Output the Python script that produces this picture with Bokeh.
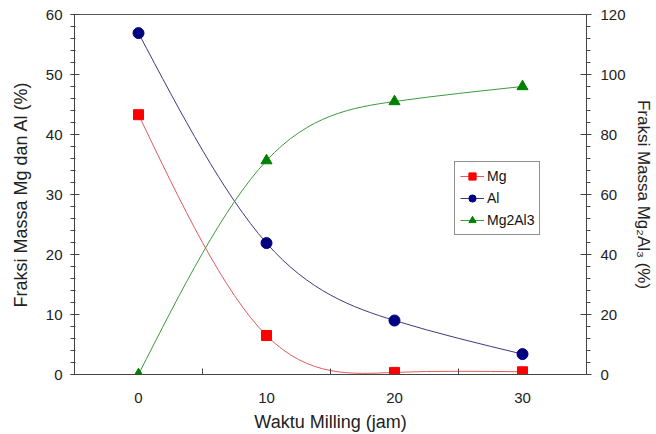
import numpy as np
from bokeh.plotting import figure
from bokeh.models import (Range1d, LinearAxis, FixedTicker, Legend, LegendItem)
from bokeh.embed import file_html
from bokeh.resources import INLINE

# ---- data ----
waktu = [0, 10, 20, 30]
mg = [43.3, 6.5, 0.35, 0.45]
al = [56.9, 21.9, 9.0, 3.4]
mg2al3 = [0.0, 71.3, 91.0, 96.0]
x_labels = [0, 10, 20, 30]

FONT = "Liberation Sans"


def natural_spline_bezier(x, y):
    """Natural cubic spline through the points, returned as bezier segments."""
    x = np.asarray(x, float)
    y = np.asarray(y, float)
    n = len(x)
    h = np.diff(x)
    A = np.zeros((n, n))
    b = np.zeros(n)
    A[0, 0] = 1
    A[-1, -1] = 1
    for i in range(1, n - 1):
        A[i, i - 1] = h[i - 1]
        A[i, i] = 2 * (h[i - 1] + h[i])
        A[i, i + 1] = h[i]
        b[i] = 6 * ((y[i + 1] - y[i]) / h[i] - (y[i] - y[i - 1]) / h[i - 1])
    M = np.linalg.solve(A, b)
    d0 = (y[1:] - y[:-1]) / h - h * (2 * M[:-1] + M[1:]) / 6
    d1 = (y[1:] - y[:-1]) / h + h * (M[:-1] + 2 * M[1:]) / 6
    return dict(
        x0=x[:-1], y0=y[:-1], x1=x[1:], y1=y[1:],
        cx0=x[:-1] + h / 3, cy0=y[:-1] + h / 3 * d0,
        cx1=x[1:] - h / 3, cy1=y[1:] - h / 3 * d1,
    )


p = figure(
    frame_width=512, frame_height=360,
    min_border_left=74, min_border_right=70, min_border_top=14, min_border_bottom=60,
    x_range=Range1d(-5, 35), y_range=Range1d(0, 60),
    output_backend="svg", toolbar_location=None,
    x_axis_location=None, y_axis_location=None,
)
p.extra_y_ranges = {"right": Range1d(0, 120)}
p.grid.visible = False
p.outline_line_color = "#555555"
p.outline_line_width = 1
p.background_fill_color = "white"
p.border_fill_color = "white"

# axes
xaxis = LinearAxis(axis_label="Waktu Milling (jam)")
xaxis.ticker = FixedTicker(ticks=x_labels, minor_ticks=[-5, 5, 15, 25, 35])
xaxis.major_tick_in = 0
xaxis.major_tick_out = 0
xaxis.minor_tick_in = 6
xaxis.minor_tick_out = 0
xaxis.major_label_standoff = 18
xaxis.axis_label_standoff = 6
p.add_layout(xaxis, "below")

yaxis = LinearAxis(axis_label="Fraksi Massa Mg dan Al (%)")
yaxis.ticker = FixedTicker(ticks=[0, 10, 20, 30, 40, 50, 60],
                           minor_ticks=list(range(0, 61, 2)))
yaxis.major_tick_in = 5
yaxis.major_tick_out = 4
yaxis.minor_tick_in = 1
yaxis.minor_tick_out = 4
yaxis.major_label_standoff = 8
yaxis.axis_label_standoff = 12
p.add_layout(yaxis, "left")

yaxis2 = LinearAxis(y_range_name="right", axis_label="Fraksi Massa Mg\u2082Al\u2083 (%)")
yaxis2.ticker = FixedTicker(ticks=[0, 20, 40, 60, 80, 100, 120],
                            minor_ticks=list(range(0, 121, 4)))
yaxis2.major_tick_in = 6
yaxis2.major_tick_out = 5
yaxis2.minor_tick_in = 0
yaxis2.minor_tick_out = 4
yaxis2.major_label_standoff = 9
yaxis2.axis_label_standoff = 5
p.add_layout(yaxis2, "right")

for ax in (xaxis, yaxis, yaxis2):
    ax.axis_line_color = "#444444"
    ax.major_tick_line_color = "#444444"
    ax.minor_tick_line_color = "#444444"
    ax.major_label_text_font = FONT
    ax.major_label_text_font_size = "15px"
    ax.major_label_text_color = "#222222"
    ax.axis_label_text_font = FONT
    ax.axis_label_text_font_size = "18px"
    ax.axis_label_text_font_style = "normal"
    ax.axis_label_text_color = "#222222"
yaxis2.axis_label_text_font_size = "17px"

# curves
s_mg = natural_spline_bezier(waktu, mg)
s_al = natural_spline_bezier(waktu, al)
s_m23 = natural_spline_bezier(waktu, mg2al3)

c_mg_line, c_mg = "#e05a5a", "#ff0000"
c_al_line, c_al = "#3a3a80", "#000080"
c_m23_line, c_m23 = "#3c9a3c", "#008000"

b_mg = p.bezier(line_color=c_mg_line, line_width=1, **s_mg)
b_al = p.bezier(line_color=c_al_line, line_width=1, **s_al)
b_m23 = p.bezier(line_color=c_m23_line, line_width=1, y_range_name="right", **s_m23)

m_mg = p.scatter(waktu, mg, marker="square", size=10, fill_color=c_mg, line_color=c_mg)
m_al = p.scatter(waktu, al, marker="circle", size=11, fill_color=c_al, line_color=c_al)
m_m23 = p.scatter(waktu, mg2al3, marker="triangle", size=11, fill_color=c_m23,
                  line_color=c_m23, y_range_name="right")

legend = Legend(items=[
    LegendItem(label="Mg", renderers=[b_mg, m_mg]),
    LegendItem(label="Al", renderers=[b_al, m_al]),
    LegendItem(label="Mg2Al3", renderers=[b_m23, m_m23]),
], location=(380, 139))
legend.border_line_color = "#222222"
legend.border_line_width = 1
legend.background_fill_alpha = 1
legend.label_text_font = FONT
legend.label_text_font_size = "14px"
legend.label_text_color = "#111111"
legend.glyph_width = 24
legend.glyph_height = 18
legend.label_height = 18
legend.spacing = 4
legend.padding = 5
legend.margin = 0
legend.label_standoff = 3
p.add_layout(legend, "center")

open("out.html", "w").write(file_html(p, INLINE))
